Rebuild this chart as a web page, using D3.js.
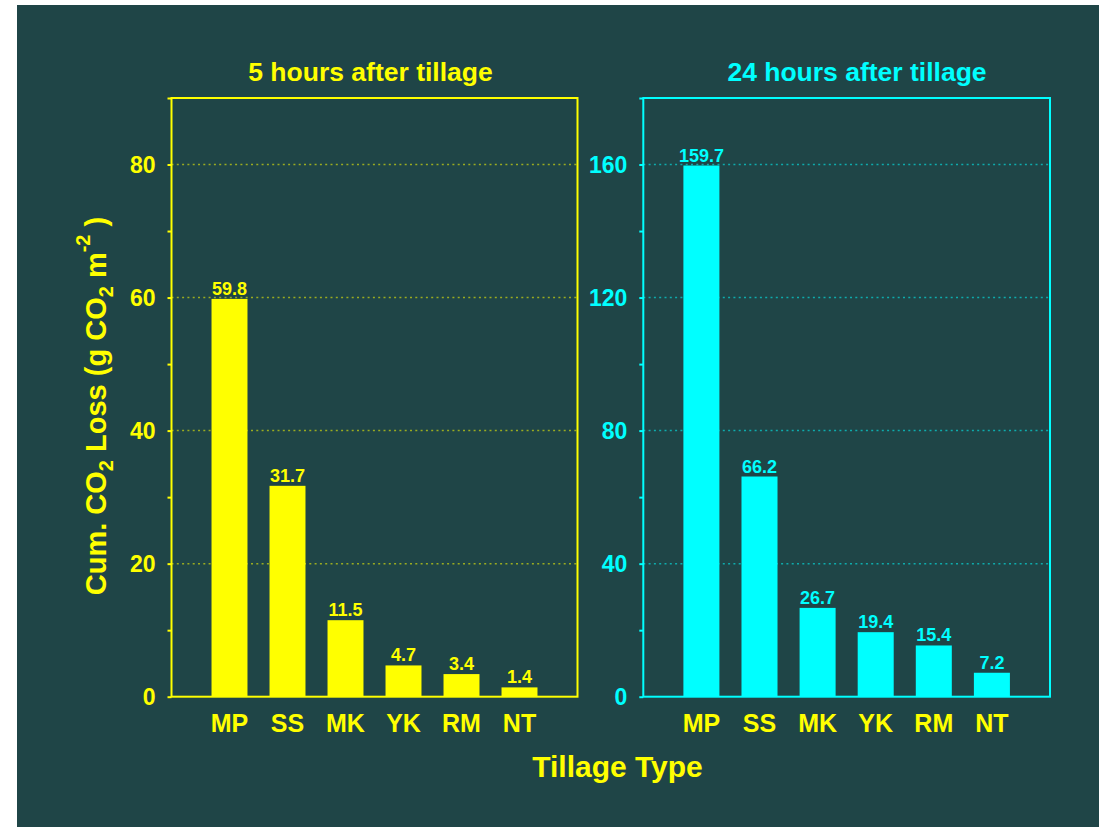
<!DOCTYPE html>
<html><head><meta charset="utf-8">
<script src="https://cdn.jsdelivr.net/npm/d3@7"></script>
<style>body{margin:0;background:#fff;}svg{display:block;}text{font-family:"Liberation Sans",Arial,sans-serif;font-weight:bold;}</style>
</head><body>
<script>
const categories = ["MP","SS","MK","YK","RM","NT"];
const values5h = [59.8,31.7,11.5,4.7,3.4,1.4];
const values24h = [159.7,66.2,26.7,19.4,15.4,7.2];
const ticks5h = [0,20,40,60,80];
const ticks24h = [0,40,80,120,160];
const titles = ["5 hours after tillage","24 hours after tillage"];

(function(){
const W=1099,H=827;
const bg="#1f4547", yel="#ffff00", cyan="#00ffff";
const svg=d3.select("body").append("svg").attr("width",W).attr("height",H);
svg.append("rect").attr("x",17).attr("y",5).attr("width",W-17).attr("height",H-5).attr("fill",bg);

const pTop=98, pBot=696.7;
const panels=[
  {x0:171.5,x1:577.5,vals:values5h,ticks:ticks5h,max:90,minor:10,color:yel,title:titles[0],tx:370.5},
  {x0:643.3,x1:1050,vals:values24h,ticks:ticks24h,max:180,minor:20,color:cyan,title:titles[1],tx:857}
];
panels.forEach(p=>{
  const g=svg.append("g");
  const y=d3.scaleLinear().domain([0,p.max]).range([pBot,pTop]);
  const x=d3.scaleLinear().domain([0,7]).range([p.x0,p.x1]);
  const bw=(x(1)-x(0))*0.62;
  g.selectAll(".grid").data(p.ticks.filter(t=>t>0)).join("line")
    .attr("x1",p.x0).attr("x2",p.x1).attr("y1",d=>y(d)).attr("y2",d=>y(d))
    .attr("stroke",p.color).attr("stroke-opacity",0.55).attr("stroke-width",1.5).attr("stroke-dasharray","2,3.3");
  g.selectAll(".bar").data(p.vals).join("rect")
    .attr("x",(d,i)=>x(i+1)-bw/2).attr("width",bw)
    .attr("y",d=>y(d)).attr("height",d=>pBot-y(d)).attr("fill",p.color);
  g.selectAll(".val").data(p.vals).join("text")
    .attr("x",(d,i)=>x(i+1)).attr("y",d=>y(d)-4).attr("text-anchor","middle")
    .attr("font-size",18).attr("fill",p.color).text(d=>d.toFixed(1));
  g.append("rect").attr("x",p.x0).attr("y",pTop).attr("width",p.x1-p.x0).attr("height",pBot-pTop)
    .attr("fill","none").attr("stroke",p.color).attr("stroke-width",2);
  const ax=d3.axisLeft(y).tickValues(d3.range(0,p.max+0.001,p.minor)).tickSize(4).tickFormat(d=>p.ticks.includes(d)?d:"");
  const ag=g.append("g").attr("transform",`translate(${p.x0},0)`).call(ax);
  ag.select(".domain").remove();
  ag.selectAll(".tick line").attr("stroke",p.color).attr("stroke-width",2);
  ag.selectAll(".tick text").attr("fill",p.color).attr("font-size",23).attr("font-family",null).attr("x",-16).attr("dy","0.36em");
  g.selectAll(".cat").data(categories).join("text")
    .attr("x",(d,i)=>x(i+1)).attr("y",732).attr("text-anchor","middle")
    .attr("font-size",25).attr("fill",yel).text(d=>d);
  g.append("text").attr("x",p.tx).attr("y",81).attr("text-anchor","middle")
    .attr("font-size",26.5).attr("fill",p.color).text(p.title);
});
svg.append("text").attr("x",617.5).attr("y",777).attr("text-anchor","middle")
  .attr("font-size",30).attr("fill",yel).text("Tillage Type");
const yl=svg.append("text").attr("transform","translate(106,406) rotate(-90)").attr("text-anchor","middle")
  .attr("font-size",29).attr("fill",yel);
yl.append("tspan").text("Cum. CO");
yl.append("tspan").attr("font-size",20).attr("dy",7).text("2");
yl.append("tspan").attr("dy",-7).text(" Loss (g CO");
yl.append("tspan").attr("font-size",20).attr("dy",7).text("2");
yl.append("tspan").attr("dy",-7).text(" m");
yl.append("tspan").attr("font-size",20).attr("dy",-16).text("-2");
yl.append("tspan").attr("dy",16).text(" )");
})();
</script>
</body></html>
